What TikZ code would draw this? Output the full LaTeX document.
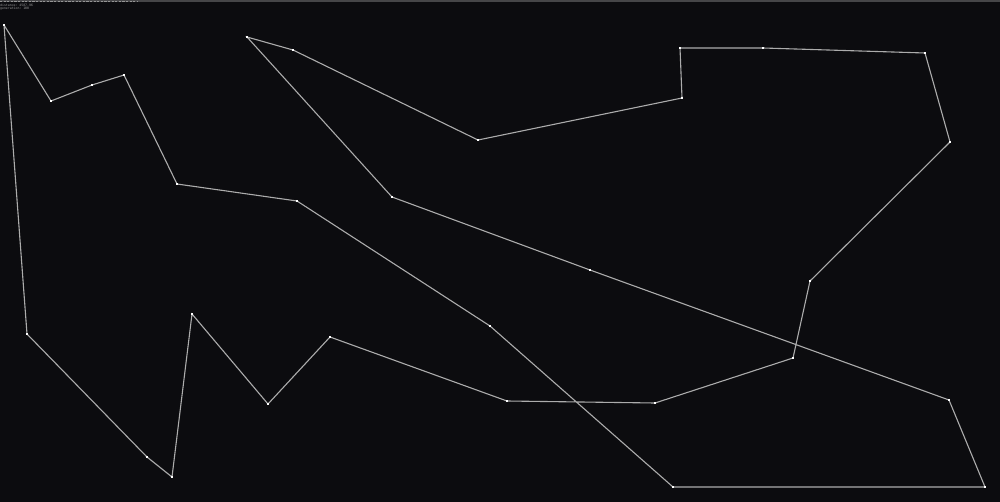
\documentclass[tikz,border=0pt]{standalone}
\usepackage{fontspec}
\setmonofont{DejaVu Sans Mono}
\definecolor{bg}{RGB}{12,12,15}
\definecolor{edge}{RGB}{172,172,172}
\definecolor{bar}{RGB}{70,70,72}
\definecolor{info}{RGB}{150,150,150}
\tikzset{
  city/.style={fill=white, draw=none, inner sep=0pt, minimum width=2.4pt, minimum height=2.4pt, rectangle},
  tour/.style={draw=edge, line width=1.1pt},
  infotext/.style={text=info, font=\ttfamily\fontsize{3.2}{3.8}\selectfont, inner sep=0pt, anchor=north west, align=left}
}
\begin{document}
\begin{tikzpicture}[x=1pt, y=-1pt]
  \fill[bg] (0,0) rectangle (1000,502);
  \useasboundingbox (0,0) rectangle (1000,502);
  % top bar
  \draw[bar, line width=1.2pt] (0,1) -- (1000,1);
  \draw[info, line width=1.2pt, dash pattern=on 2.2pt off 1.4pt] (0,1.2) -- (137,1.2);
  \node[infotext] (info) at (0,3.4) {distance: 4587.96\\generation: 100};
  % cities
  \node[city] (c1) at (4,25) {};
  \node[city] (c2) at (51,101) {};
  \node[city] (c3) at (92,85) {};
  \node[city] (c4) at (124,75) {};
  \node[city] (c5) at (177,184) {};
  \node[city] (c6) at (297,201) {};
  \node[city] (c7) at (490,326) {};
  \node[city] (c8) at (673,487) {};
  \node[city] (c9) at (985,487) {};
  \node[city] (c10) at (949,400) {};
  \node[city] (c11) at (590,270) {};
  \node[city] (c12) at (392,197) {};
  \node[city] (c13) at (247,37) {};
  \node[city] (c14) at (293,50) {};
  \node[city] (c15) at (478,140) {};
  \node[city] (c16) at (682,98) {};
  \node[city] (c17) at (680,48) {};
  \node[city] (c18) at (763,48) {};
  \node[city] (c19) at (925,53) {};
  \node[city] (c20) at (950,142) {};
  \node[city] (c21) at (810,281) {};
  \node[city] (c22) at (793,358) {};
  \node[city] (c23) at (655,403) {};
  \node[city] (c24) at (507,401) {};
  \node[city] (c25) at (330,337) {};
  \node[city] (c26) at (268,404) {};
  \node[city] (c27) at (192,314) {};
  \node[city] (c28) at (172,477) {};
  \node[city] (c29) at (147,457) {};
  \node[city] (c30) at (27,334) {};
  % tour
  \draw[tour] (c1.center) -- (c2.center) -- (c3.center) -- (c4.center) -- (c5.center)
    -- (c6.center) -- (c7.center) -- (c8.center) -- (c9.center) -- (c10.center)
    -- (c11.center) -- (c12.center) -- (c13.center) -- (c14.center) -- (c15.center)
    -- (c16.center) -- (c17.center) -- (c18.center) -- (c19.center) -- (c20.center)
    -- (c21.center) -- (c22.center) -- (c23.center) -- (c24.center) -- (c25.center)
    -- (c26.center) -- (c27.center) -- (c28.center) -- (c29.center) -- (c30.center)
    -- (c1.center);
  % redraw city markers on top
  \foreach \c in {c1,c2,c3,c4,c5,c6,c7,c8,c9,c10,c11,c12,c13,c14,c15,c16,c17,c18,c19,c20,c21,c22,c23,c24,c25,c26,c27,c28,c29,c30}
    \fill[white] ([xshift=-1.2pt,yshift=-1.2pt]\c.center) rectangle ([xshift=1.2pt,yshift=1.2pt]\c.center);
\end{tikzpicture}
\end{document}
